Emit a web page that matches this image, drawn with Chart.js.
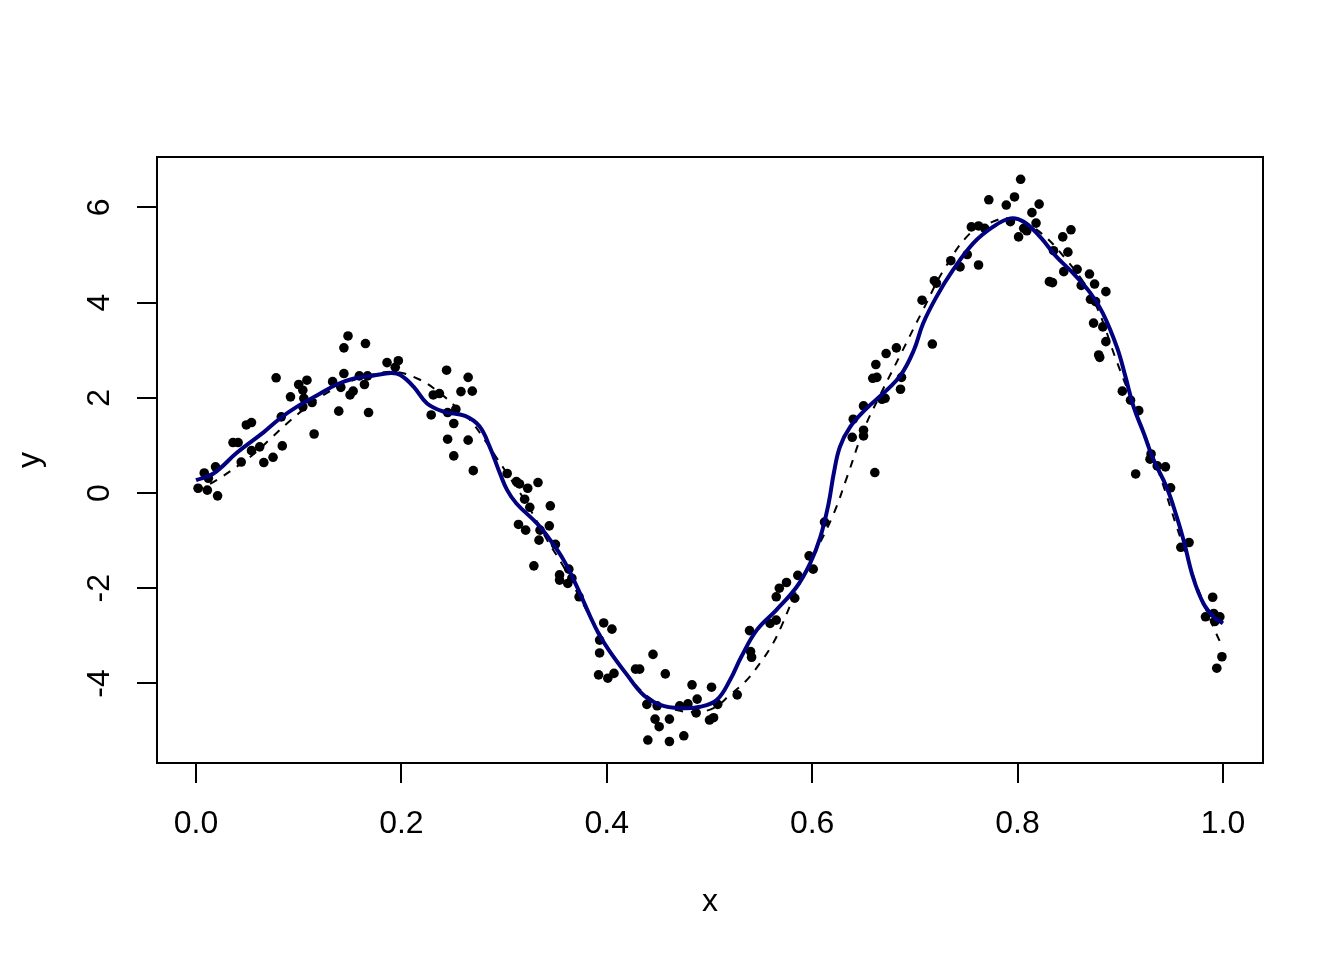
<!DOCTYPE html>
<html>
<head>
<meta charset="utf-8">
<script src="https://cdn.jsdelivr.net/npm/chart.js@4"></script>
<style>
  body { margin: 0; background: #fff; }
</style>
</head>
<body>
<canvas id="fitChart" width="1344" height="960"></canvas>
<script>
// noisy observations
const pointX = [0.002,0.008,0.012,0.011,0.019,0.021,0.036,0.041,0.044,0.049,0.054,0.054,0.062,0.066,0.075,0.078,0.084,0.083,0.092,0.100,
  0.108,0.104,0.105,0.104,0.113,0.115,0.133,0.139,0.141,0.144,0.148,0.144,0.150,0.153,0.159,0.164,0.165,0.168,0.167,0.186,
  0.197,0.194,0.229,0.231,0.237,0.244,0.245,0.253,0.251,0.258,0.265,0.269,0.245,0.251,0.265,0.270,0.303,0.312,0.315,0.333,
  0.323,0.320,0.325,0.345,0.314,0.321,0.344,0.335,0.334,0.350,0.329,0.354,0.354,0.363,0.366,0.362,0.373,0.397,0.405,0.393,
  0.393,0.392,0.401,0.407,0.428,0.432,0.445,0.457,0.439,0.449,0.447,0.451,0.461,0.440,0.461,0.475,0.471,0.479,0.483,0.488,
  0.487,0.502,0.508,0.500,0.504,0.527,0.539,0.540,0.541,0.559,0.565,0.565,0.568,0.575,0.583,0.586,0.597,0.601,0.612,0.639,
  0.640,0.650,0.650,0.650,0.661,0.659,0.663,0.662,0.672,0.682,0.668,0.671,0.686,0.687,0.717,0.707,0.719,0.721,0.735,0.744,
  0.751,0.762,0.755,0.762,0.768,0.772,0.789,0.797,0.803,0.793,0.801,0.806,0.809,0.814,0.818,0.821,0.844,0.852,0.835,0.849,
  0.831,0.834,0.845,0.858,0.870,0.862,0.875,0.886,0.871,0.876,0.874,0.883,0.886,0.879,0.880,0.902,0.910,0.918,0.915,0.930,
  0.929,0.936,0.944,0.949,0.959,0.967,0.990,0.983,0.991,0.997,0.992,0.999,0.994];
const pointY = [0.10,0.42,0.31,0.06,0.55,-0.06,1.06,1.06,0.65,1.43,1.48,0.89,0.97,0.64,0.75,2.42,0.99,1.60,2.02,2.28,
  2.37,2.16,1.99,1.81,1.90,1.24,2.34,1.72,2.22,3.05,3.30,2.51,2.06,2.14,2.46,2.28,3.14,1.69,2.46,2.74,
  2.78,2.64,1.64,2.06,2.09,2.58,1.69,1.76,1.46,2.13,2.43,2.14,1.13,0.78,1.11,0.47,0.41,0.24,0.19,0.22,
  0.10,-0.13,-0.30,-0.27,-0.66,-0.78,-0.69,-0.78,-0.99,-1.08,-1.53,-1.72,-1.83,-1.60,-1.79,-1.90,-2.18,-2.73,-2.86,-3.09,
  -3.36,-3.82,-3.89,-3.79,-3.70,-3.70,-3.39,-3.80,-4.44,-4.47,-4.75,-4.91,-4.75,-5.19,-5.22,-5.10,-4.47,-4.43,-4.03,-4.33,
  -4.62,-4.08,-4.44,-4.77,-4.72,-4.24,-2.89,-3.33,-3.45,-2.74,-2.67,-2.18,-2.00,-1.88,-2.21,-1.73,-1.32,-1.60,-0.61,1.17,
  1.55,1.32,1.20,1.83,0.43,2.41,2.43,2.70,2.93,3.05,1.97,1.99,2.18,2.43,3.13,4.05,4.46,4.41,4.88,4.75,
  5.01,4.79,5.59,5.61,5.56,6.16,6.05,6.22,6.59,5.70,5.38,5.56,5.51,5.89,5.67,6.07,5.38,5.53,5.09,5.06,
  4.44,4.42,4.65,4.70,4.60,4.36,4.39,4.23,4.07,4.02,3.57,3.49,3.18,2.90,2.85,2.14,1.95,1.73,0.40,0.82,
  0.71,0.57,0.55,0.11,-1.14,-1.04,-2.19,-2.60,-2.53,-2.60,-2.70,-3.44,-3.68];

// true curve (dashed)
const trueX = [0,0.020,0.042,0.058,0.072,0.088,0.105,0.122,0.145,0.170,0.195,0.217,0.234,0.251,0.267,0.280,0.293,0.306,0.322,0.342,
  0.358,0.375,0.393,0.410,0.431,0.450,0.468,0.485,0.504,0.520,0.535,0.548,0.561,0.570,0.585,0.603,0.621,0.634,0.650,0.666,
  0.687,0.708,0.728,0.754,0.776,0.790,0.815,0.848,0.874,0.897,0.920,0.939,0.955,0.975,0.991,1.000];
const trueY = [0.03,0.27,0.59,0.85,1.13,1.45,1.76,2.03,2.30,2.48,2.54,2.39,2.16,1.85,1.53,1.15,0.73,0.31,-0.22,-0.99,
  -1.55,-2.25,-2.95,-3.55,-4.10,-4.42,-4.56,-4.60,-4.52,-4.24,-3.96,-3.61,-3.19,-2.80,-2.04,-1.25,-0.43,0.34,1.32,2.05,
  2.95,3.85,4.68,5.46,5.70,5.77,5.59,4.89,4.05,2.74,1.45,0.34,-0.71,-1.97,-2.83,-3.26];

// fitted smooth (navy)
const fitX = [0,0.017,0.040,0.066,0.082,0.098,0.121,0.137,0.153,0.173,0.190,0.199,0.212,0.225,0.241,0.262,0.276,0.286,0.296,0.303,
  0.312,0.332,0.345,0.358,0.371,0.384,0.392,0.402,0.419,0.436,0.452,0.471,0.491,0.507,0.520,0.531,0.546,0.565,0.585,0.598,
  0.608,0.616,0.621,0.627,0.637,0.653,0.669,0.686,0.699,0.708,0.721,0.737,0.757,0.776,0.793,0.806,0.822,0.838,0.854,0.871,
  0.883,0.897,0.905,0.913,0.923,0.932,0.945,0.955,0.962,0.971,0.981,0.991,1.000];
const fitY = [0.27,0.41,0.85,1.28,1.57,1.81,2.09,2.28,2.40,2.47,2.52,2.48,2.23,1.88,1.71,1.62,1.40,0.97,0.41,0.06,
  -0.22,-0.64,-0.99,-1.41,-1.97,-2.60,-2.95,-3.30,-3.80,-4.25,-4.45,-4.52,-4.49,-4.35,-3.93,-3.44,-2.88,-2.46,-1.97,-1.48,
  -0.92,-0.22,0.41,0.97,1.39,1.78,2.09,2.47,3.00,3.56,4.12,4.68,5.25,5.59,5.77,5.70,5.38,4.96,4.62,4.20,
  3.78,3.05,2.45,1.81,1.25,0.72,0.13,-0.50,-1.02,-1.78,-2.32,-2.60,-2.74];

const xTicks = [0, 0.2, 0.4, 0.6, 0.8, 1.0];
const yTicks = [-4, -2, 0, 2, 4, 6];

const fam = '"Liberation Sans", Arial, sans-serif';
const toXY = (xs, ys) => xs.map((v, i) => ({ x: v, y: ys[i] }));

// R style box round the plot region
const boxPlugin = {
  id: 'box',
  afterDraw(chart) {
    const { ctx, chartArea: a } = chart;
    ctx.save();
    ctx.strokeStyle = '#000';
    ctx.lineWidth = 2;
    ctx.strokeRect(a.left, a.top, a.right - a.left, a.bottom - a.top);
    ctx.restore();
  }
};

new Chart(document.getElementById('fitChart'), {
  type: 'scatter',
  data: {
    datasets: [{
      label: 'fit',
      data: toXY(fitX, fitY),
      showLine: true,
      borderColor: '#000080',
      borderWidth: 4,
      pointRadius: 0,
      tension: 0.4,
      order: 1
    }, {
      label: 'truth',
      data: toXY(trueX, trueY),
      showLine: true,
      borderColor: '#000',
      borderWidth: 2,
      borderDash: [8, 8],
      pointRadius: 0,
      tension: 0.4,
      order: 2
    }, {
      label: 'y',
      data: toXY(pointX, pointY),
      backgroundColor: '#000',
      borderWidth: 0,
      pointRadius: 4.8,
      order: 3
    }]
  },
  options: {
    responsive: false,
    animation: false,
    layout: { padding: { top: 157, right: 81, left: 0, bottom: 0 } },
    plugins: {
      legend: { display: false },
      tooltip: { enabled: false }
    },
    scales: {
      x: {
        type: 'linear',
        min: -0.038,
        max: 1.039,
        afterBuildTicks: s => { s.ticks = xTicks.map(v => ({ value: v })); },
        afterFit: s => { s.height = 197; },
        grid: { display: true, drawOnChartArea: false, drawTicks: true, tickLength: 20, color: '#000', lineWidth: 2 },
        border: { display: false },
        ticks: {
          autoSkip: false, minRotation: 0, maxRotation: 0, padding: 22, color: '#000',
          font: { family: fam, size: 32 },
          callback: v => v.toFixed(1)
        },
        title: { display: true, text: 'x', color: '#000', font: { family: fam, size: 32 }, padding: { top: 39, bottom: 39 } }
      },
      y: {
        type: 'linear',
        min: -5.672,
        max: 7.059,
        afterBuildTicks: s => { s.ticks = yTicks.map(v => ({ value: v })); },
        afterFit: s => { s.width = 157; },
        grid: { display: true, drawOnChartArea: false, drawTicks: true, tickLength: 20, color: '#000', lineWidth: 2 },
        border: { display: false },
        ticks: {
          autoSkip: false, minRotation: 90, maxRotation: 90, crossAlign: 'center', padding: 23, color: '#000',
          font: { family: fam, size: 32 }
        },
        title: { display: true, text: 'y', color: '#000', font: { family: fam, size: 32 }, padding: { top: 11, bottom: 11 } }
      }
    }
  },
  plugins: [boxPlugin]
});
</script>
</body>
</html>
